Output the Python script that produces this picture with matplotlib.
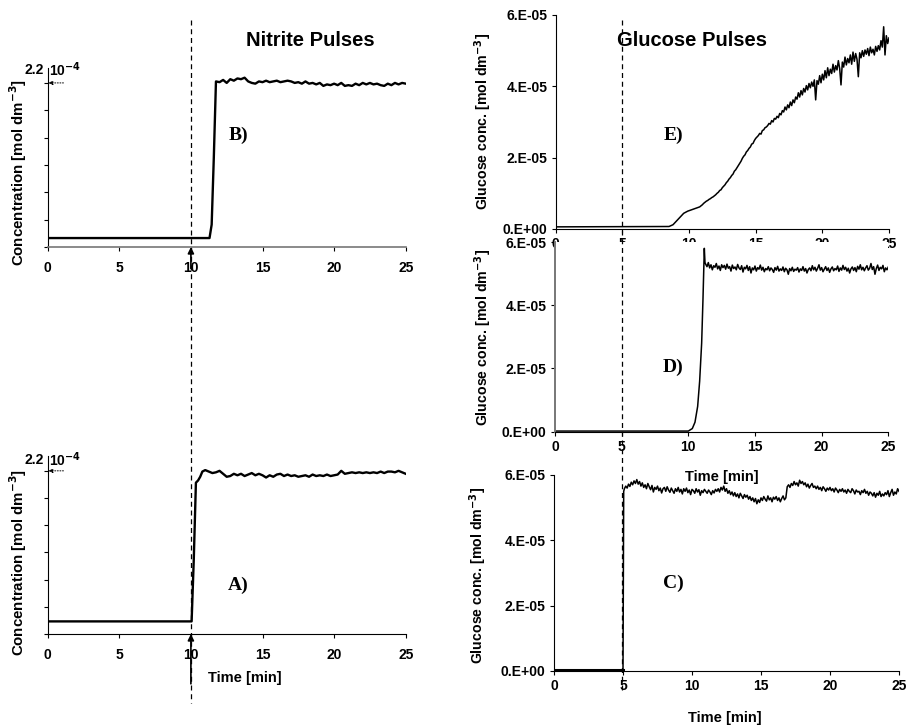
import numpy as np
import matplotlib
matplotlib.use("Agg")
import matplotlib.pyplot as plt
from matplotlib.lines import Line2D
from matplotlib.ticker import FuncFormatter
import matplotlib.transforms as mtransforms

plt.rcParams["font.family"] = ["Liberation Sans", "DejaVu Sans"]
plt.rcParams["font.weight"] = "bold"

W, H = 908, 727

# ── Nitrite traces (units of 1e-4 mol dm-3) ───────────────────────────────────
b_rise_t = [0, 11.3, 11.45, 11.6, 11.75]
b_rise_c = [0.12, 0.12, 0.30, 1.20, 2.22]
b_plat_c = [2.21, 2.24, 2.20, 2.25, 2.23, 2.26, 2.25, 2.27, 2.22, 2.20,
            2.19, 2.22, 2.21, 2.23, 2.21, 2.22, 2.23, 2.21, 2.22, 2.23,
            2.22, 2.20, 2.21, 2.19, 2.22, 2.19, 2.20, 2.18, 2.20, 2.16,
            2.18, 2.17, 2.19, 2.17, 2.20, 2.16, 2.17, 2.16, 2.19, 2.17,
            2.20, 2.18, 2.20, 2.18, 2.19, 2.17, 2.16, 2.19, 2.17, 2.20,
            2.18, 2.20, 2.19]

a_rise_t = [0, 10.05, 10.2, 10.35, 10.5, 10.65, 10.8]
a_rise_c = [0.17, 0.17, 1.00, 2.04, 2.07, 2.12, 2.19]
a_plat_c = [2.21, 2.19, 2.17, 2.18, 2.20, 2.16, 2.12, 2.13, 2.16, 2.14,
            2.16, 2.13, 2.15, 2.17, 2.14, 2.16, 2.14, 2.11, 2.14, 2.12,
            2.15, 2.16, 2.13, 2.15, 2.13, 2.14, 2.12, 2.13, 2.14, 2.12,
            2.15, 2.13, 2.14, 2.13, 2.15, 2.13, 2.14, 2.15, 2.20, 2.16,
            2.17, 2.18, 2.17, 2.18, 2.17, 2.18, 2.17, 2.18, 2.17, 2.19,
            2.17, 2.19, 2.19, 2.18, 2.20, 2.18, 2.16]

nitrite_ticks = [0, 2.2 / 6, 2 * 2.2 / 6, 3 * 2.2 / 6, 4 * 2.2 / 6, 5 * 2.2 / 6, 2.2]

# ── Glucose traces (units of 1e-5 mol dm-3) ───────────────────────────────────
e_rise_t = [0, 8.5, 8.8, 9.0, 9.3, 9.6, 9.9, 10.2, 10.5, 10.8, 11.0]
e_rise_c = [0.06, 0.07, 0.12, 0.20, 0.32, 0.44, 0.50, 0.54, 0.58, 0.62, 0.68]
e_plat_c = [0.72, 0.75, 0.78, 0.80, 0.83, 0.85, 0.88, 0.90, 0.93, 0.96,
            1.00, 1.03, 1.08, 1.10, 1.16, 1.20, 1.24, 1.30, 1.34, 1.40,
            1.44, 1.50, 1.54, 1.62, 1.66, 1.72, 1.78, 1.84, 1.90, 1.98,
            2.04, 2.08, 2.16, 2.20, 2.26, 2.30, 2.38, 2.40, 2.48, 2.54,
            2.58, 2.62, 2.68, 2.66, 2.76, 2.78, 2.84, 2.86, 2.90, 2.96,
            2.94, 3.04, 3.00, 3.10, 3.08, 3.16, 3.12, 3.24, 3.20, 3.32,
            3.28, 3.42, 3.34, 3.48, 3.40, 3.56, 3.46, 3.62, 3.54, 3.70,
            3.64, 3.82, 3.70, 3.88, 3.76, 3.94, 3.84, 4.02, 3.90, 4.08,
            3.96, 4.12, 4.00, 4.18, 3.62, 4.16, 4.06, 4.30, 4.10, 4.34,
            4.18, 4.44, 4.24, 4.52, 4.30, 4.48, 4.36, 4.62, 4.40, 4.58,
            4.46, 4.72, 4.50, 4.04, 4.68, 4.54, 4.82, 4.60, 4.78, 4.66,
            4.88, 4.62, 4.96, 4.70, 4.92, 4.76, 4.27, 4.94, 4.80, 5.00,
            4.84, 5.02, 4.90, 5.06, 4.86, 5.10, 4.94, 5.04, 4.88, 5.12,
            4.98, 5.14, 5.02, 5.28, 5.10, 5.67, 4.88, 5.42, 5.20, 5.36]

d_rise_t = [0, 10.0, 10.3, 10.5, 10.7, 10.85, 11.0, 11.1, 11.2, 11.25]
d_rise_c = [0.02, 0.02, 0.10, 0.30, 0.80, 1.60, 2.80, 4.20, 5.80, 5.35]
d_plat_c = [5.30, 5.22, 5.35, 5.18, 5.28, 5.12, 5.25, 5.20, 5.32, 5.15,
            5.24, 5.10, 5.28, 5.19, 5.26, 5.14, 5.30, 5.17, 5.22, 5.08,
            5.27, 5.16, 5.21, 5.12, 5.29, 5.18, 5.13, 5.25, 5.05, 5.20,
            5.15, 5.26, 5.10, 5.22, 5.02, 5.18, 5.12, 5.24, 5.08, 5.19,
            5.14, 5.27, 5.11, 5.20, 5.06, 5.16, 5.12, 5.22, 5.09, 5.18,
            5.13, 5.04, 5.19, 5.11, 5.23, 5.08, 5.15, 5.10, 5.21, 5.06,
            5.17, 5.12, 4.98, 5.16, 5.09, 5.20, 5.07, 5.14, 5.11, 5.19,
            5.05, 5.15, 5.10, 5.22, 5.08, 5.16, 5.02, 5.13, 5.18, 5.09,
            5.25, 5.12, 5.20, 5.08, 5.17, 5.28, 5.11, 5.19, 5.06, 5.14,
            5.22, 5.10, 5.18, 5.04, 5.15, 5.21, 5.09, 5.16, 5.12, 5.24,
            5.07, 5.18, 5.11, 5.26, 5.13, 5.20, 5.08, 5.17, 5.02, 5.15,
            5.21, 5.10, 5.19, 5.06, 5.23, 5.14, 5.28, 5.12, 5.20, 5.09,
            5.18, 5.25, 5.11, 5.17, 5.32, 5.13, 5.22, 4.98, 5.16, 5.27,
            5.10, 5.20, 5.15, 5.26, 5.06, 5.18, 5.12, 5.21]

c_rise_t = [0, 5.0, 5.05]
c_rise_c = [0.02, 0.02, 5.50]
c_plat_c = [5.58, 5.66, 5.60, 5.72, 5.65, 5.78, 5.70, 5.82, 5.74, 5.86,
            5.72, 5.80, 5.66, 5.76, 5.62, 5.70, 5.58, 5.74, 5.64, 5.55,
            5.68, 5.48, 5.62, 5.56, 5.66, 5.52, 5.60, 5.45, 5.58, 5.62,
            5.50, 5.64, 5.54, 5.47, 5.60, 5.52, 5.44, 5.58, 5.50, 5.62,
            5.48, 5.56, 5.42, 5.58, 5.50, 5.60, 5.46, 5.54, 5.40, 5.56,
            5.52, 5.44, 5.58, 5.48, 5.55, 5.38, 5.52, 5.46, 5.56, 5.50,
            5.44, 5.54, 5.48, 5.40, 5.52, 5.45, 5.56, 5.50, 5.58, 5.48,
            5.62, 5.54, 5.66, 5.50, 5.58, 5.44, 5.52, 5.40, 5.48, 5.36,
            5.46, 5.34, 5.42, 5.30, 5.44, 5.36, 5.28, 5.40, 5.32, 5.38,
            5.26, 5.34, 5.22, 5.30, 5.18, 5.28, 5.12, 5.24, 5.16, 5.30,
            5.22, 5.34, 5.26, 5.20, 5.36, 5.24, 5.30, 5.18, 5.32, 5.26,
            5.34, 5.22, 5.30, 5.18, 5.28, 5.36, 5.24, 5.30, 5.64, 5.70,
            5.62, 5.74, 5.68, 5.80, 5.70, 5.76, 5.66, 5.84, 5.74, 5.80,
            5.70, 5.76, 5.64, 5.72, 5.60, 5.68, 5.74, 5.62, 5.66, 5.58,
            5.66, 5.56, 5.62, 5.52, 5.64, 5.58, 5.50, 5.60, 5.54, 5.62,
            5.52, 5.58, 5.48, 5.60, 5.54, 5.46, 5.56, 5.50, 5.58, 5.48,
            5.54, 5.44, 5.56, 5.50, 5.46, 5.58, 5.52, 5.42, 5.54, 5.48,
            5.50, 5.40, 5.52, 5.46, 5.56, 5.44, 5.50, 5.38, 5.48, 5.44,
            5.36, 5.46, 5.32, 5.44, 5.38, 5.50, 5.34, 5.42, 5.36, 5.46,
            5.40, 5.52, 5.34, 5.46, 5.56, 5.38, 5.48, 5.42, 5.58, 5.50]

glucose_ticks = [0, 2e-5, 4e-5, 6e-5]
time_ticks = [0, 5, 10, 15, 20, 25]


def series(rise_t, rise_c, plat_start, plat_end, plat_c, scale=1.0):
    t = np.concatenate([rise_t, np.linspace(plat_start, plat_end, len(plat_c))])
    c = np.concatenate([rise_c, plat_c]) * scale
    return t, c


def px_box(left, right, top, bottom):
    return [left / W, 1 - bottom / H, (right - left) / W, (bottom - top) / H]


def sci_fmt(v, pos):
    m, e = f"{v:.0E}".split("E")
    return f"{m}.E{e}"


def style_axes(ax, ylim, yticks, xpad=3):
    ax.set_xlim(0, 25)
    ax.set_ylim(*ylim)
    ax.set_xticks(time_ticks)
    ax.set_yticks(yticks)
    for s in ("top", "right"):
        ax.spines[s].set_visible(False)
    ax.tick_params(direction="out", length=3, width=0.8, labelsize=10, pad=3)
    ax.tick_params(axis="x", pad=xpad)
    for lbl in ax.get_xticklabels() + ax.get_yticklabels():
        lbl.set_fontweight("bold")


fig = plt.figure(figsize=(W / 100, H / 100), dpi=100)

# ── Left column: nitrite pulses ───────────────────────────────────────────────
ax_b = fig.add_axes(px_box(47.7, 405.7, 68, 247))
ax_a = fig.add_axes(px_box(47.7, 405.7, 456, 634))

t, c = series(b_rise_t, b_rise_c, 12.0, 25.0, b_plat_c)
ax_b.plot(t, c, color="black", lw=1.7)
t, c = series(a_rise_t, a_rise_c, 11.0, 25.0, a_plat_c)
ax_a.plot(t, c, color="black", lw=1.7)

for ax in (ax_b, ax_a):
    style_axes(ax, (0, 2.4), nitrite_ticks, xpad=7)
    ax.set_yticklabels([])
    ax.annotate("", xy=(0.05, 2.2), xytext=(1.1, 2.2),
                arrowprops=dict(arrowstyle="-|>", lw=0.7, ls=":", color="black",
                                mutation_scale=6, shrinkA=0, shrinkB=0))
ax_b.spines["bottom"].set_color("#777777")
ax_b.spines["bottom"].set_linewidth(1.2)

# upward pulse arrows at t = 10 min
ax_b.annotate("", xy=(10, 0), xycoords=("data", "axes fraction"),
              xytext=(10, -0.12), textcoords=("data", "axes fraction"),
              arrowprops=dict(arrowstyle="-|>", lw=1.2, color="black",
                              mutation_scale=9, shrinkA=0, shrinkB=0),
              annotation_clip=False)
ax_a.annotate("", xy=(10, 0), xycoords=("data", "axes fraction"),
              xytext=(10, -0.28), textcoords=("data", "axes fraction"),
              arrowprops=dict(arrowstyle="-|>", lw=1.2, color="black",
                              mutation_scale=9, shrinkA=0, shrinkB=0),
              annotation_clip=False)

# ── Right column: glucose pulses ──────────────────────────────────────────────
ax_e = fig.add_axes(px_box(555.7, 889, 15, 229))
ax_d = fig.add_axes(px_box(555, 888.3, 242, 431.7))
ax_c = fig.add_axes(px_box(554, 899, 475, 671))

t, c = series(e_rise_t, e_rise_c, 11.1, 25.0, e_plat_c, 1e-5)
ax_e.plot(t, c, color="black", lw=1.1)
t, c = series(d_rise_t, d_rise_c, 11.3, 25.0, d_plat_c, 1e-5)
ax_d.plot(t, c, color="black", lw=1.1)
t, c = series(c_rise_t, c_rise_c, 5.1, 25.0, c_plat_c, 1e-5)
ax_c.plot(t, c, color="black", lw=1.1)
ax_c.plot([0, 5], [0.02e-5, 0.02e-5], color="black", lw=2.2)

for ax in (ax_e, ax_d, ax_c):
    style_axes(ax, (0, 6e-5), glucose_ticks)
    ax.yaxis.set_major_formatter(FuncFormatter(sci_fmt))
    for lbl in ax.get_yticklabels():
        lbl.set_fontweight("bold")
ax_d.spines["left"].set_color("#777777")
ax_d.spines["left"].set_linewidth(1.4)

# ── Dashed pulse markers ──────────────────────────────────────────────────────
tr_left = mtransforms.blended_transform_factory(ax_b.transData, fig.transFigure)
fig.add_artist(Line2D([10, 10], [1 - 20 / H, 1 - 703 / H], transform=tr_left,
                      color="black", lw=0.9, ls=(0, (4, 3))))
tr_right = mtransforms.blended_transform_factory(ax_e.transData, fig.transFigure)
fig.add_artist(Line2D([5, 5], [1 - 20 / H, 1 - 690 / H], transform=tr_right,
                      color="black", lw=0.9, ls=(0, (4, 3))))

# ── Text ──────────────────────────────────────────────────────────────────────
def ftext(x, y, s, **kw):
    fig.text(x / W, 1 - y / H, s, **kw)


ftext(310, 40, "Nitrite Pulses", fontsize=14.5, fontweight="bold", ha="center", va="center")
ftext(692, 40, "Glucose Pulses", fontsize=14.5, fontweight="bold", ha="center", va="center")

serif = dict(family=["Liberation Serif", "DejaVu Serif"], fontsize=14, fontweight="bold",
             ha="center", va="center")
ftext(238, 135, "B)", **serif)
ftext(238, 585, "A)", **serif)
ftext(673, 135, "E)", **serif)
ftext(673, 367, "D)", **serif)
ftext(673, 583, "C)", **serif)

for ytxt in (70, 460):
    ftext(44, ytxt, "2.2", fontsize=10, fontweight="bold", ha="right", va="center")
    ftext(49, ytxt, r"10$^{\mathbf{-4}}$", fontsize=10, fontweight="bold", ha="left", va="center")

conc = r"Concentration [mol dm$^{\mathbf{-3}}$]"
ftext(18, 172, conc, fontsize=10.8, fontweight="bold", rotation=90, ha="center", va="center")
ftext(18, 562, conc, fontsize=10.8, fontweight="bold", rotation=90, ha="center", va="center")

gluc = r"Glucose conc. [mol dm$^{\mathbf{-3}}$]"
ftext(483, 121, gluc, fontsize=10.2, fontweight="bold", rotation=90, ha="center", va="center")
ftext(483, 337, gluc, fontsize=10.2, fontweight="bold", rotation=90, ha="center", va="center")
ftext(478, 575, gluc, fontsize=10.2, fontweight="bold", rotation=90, ha="center", va="center")

ftext(245, 678, "Time [min]", fontsize=10.5, fontweight="bold", ha="center", va="center")
ftext(722, 477, "Time [min]", fontsize=10.5, fontweight="bold", ha="center", va="center")
ftext(725, 718, "Time [min]", fontsize=10.5, fontweight="bold", ha="center", va="center")

fig.savefig("out.png", dpi=100)
